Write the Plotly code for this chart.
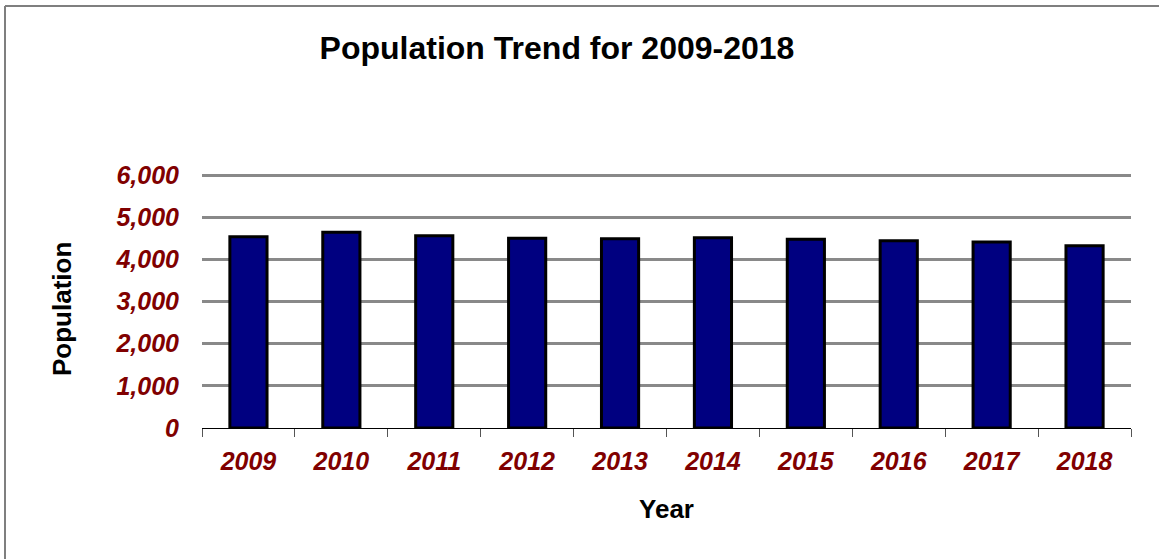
import plotly.graph_objects as go

# Annual population figures
years = ["2009", "2010", "2011", "2012", "2013", "2014", "2015", "2016", "2017", "2018"]
population = [4536, 4640, 4559, 4498, 4488, 4512, 4474, 4441, 4410, 4322]
y_ticks = [0, 1000, 2000, 3000, 4000, 5000, 6000]
y_tick_text = ["0", "1,000", "2,000", "3,000", "4,000", "5,000", "6,000"]
y_max = 6048

W, H = 1159, 559
L, R, T, B = 202, 28, 173, 131
pw, ph = W - L - R, H - T - B

def px(x):
    return (x - L) / pw

def py(y):
    return (H - B - y) / ph

tick_font = dict(family="Liberation Sans, Arial", size=25, color="#800000",
                 weight="bold", style="italic")

fig = go.Figure(go.Bar(
    x=years,
    y=population,
    marker=dict(color="#000080", line=dict(color="#000000", width=3)),
    width=0.4,
    hovertemplate="%{x}: %{y:,}<extra></extra>",
))

fig.update_layout(
    width=W, height=H,
    margin=dict(l=L, r=R, t=T, b=B),
    paper_bgcolor="white",
    plot_bgcolor="white",
    showlegend=False,
    font=dict(family="Liberation Sans, Arial", color="#000000"),
    title=dict(
        text="<b>Population Trend for 2009-2018</b>",
        font=dict(size=32, color="#000000"),
        x=557 / W, xanchor="center",
        y=1 - 48 / H, yanchor="middle",
    ),
    xaxis=dict(
        type="category",
        showgrid=False,
        showline=True, linecolor="#000000", linewidth=1,
        ticks="outside", ticklen=8, tickcolor="#555555", tickwidth=1,
        tickson="boundaries",
        tickfont=tick_font,
        ticklabelstandoff=11,
        title=dict(text="<b>Year</b>", font=dict(size=26), standoff=25),
    ),
    yaxis=dict(
        range=[0, y_max],
        tickvals=y_ticks, ticktext=y_tick_text,
        showgrid=True, gridcolor="#898989", gridwidth=2.5,
        zeroline=False, showline=False,
        ticks="", tickfont=tick_font,
        ticklabelstandoff=22,
    ),
    annotations=[
        dict(text="<b>Population</b>", textangle=-90,
             xref="paper", yref="paper", x=px(62), y=py(309),
             xanchor="center", yanchor="middle", showarrow=False,
             font=dict(size=26, color="#000000")),
    ],
    shapes=[
        dict(type="line", xref="paper", yref="paper",
             x0=px(5), x1=px(W + 5), y0=py(6), y1=py(6),
             line=dict(color="#7f7f7f", width=2)),
        dict(type="line", xref="paper", yref="paper",
             x0=px(5), x1=px(5), y0=py(6), y1=py(H + 5),
             line=dict(color="#7f7f7f", width=2)),
    ],
)

fig.write_html("out.html")
